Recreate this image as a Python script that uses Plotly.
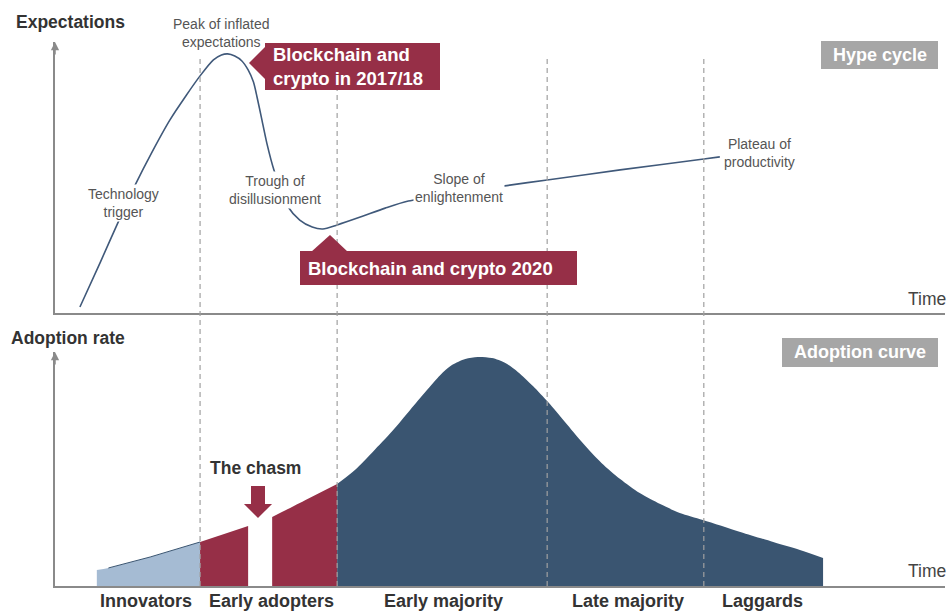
import plotly.graph_objects as go

# ---------------- data ----------------
# Hype cycle: time (0-100) vs expectations (0-100)
hype_t = [2.8, 5.1, 7.2, 9.0, 10.9, 12.9, 14.7, 16.3, 17.8, 18.7, 19.4, 20.2, 21.0, 21.7,
          22.3, 22.7, 23.2, 23.8, 24.6, 26.2, 27.5, 28.9, 30.1, 31.7, 34.3, 37.1, 39.7,
          51.1, 55.3, 63.5, 72.9, 74.7]
hype_v = [2.2, 18.8, 34.3, 47.2, 59.4, 71.2, 80.1, 87.5, 93.4, 95.2, 95.6, 94.8, 93.0, 89.7,
          85.2, 79.7, 72.0, 62.7, 52.8, 39.1, 34.3, 31.7, 31.0, 32.5, 35.4, 38.7, 41.3,
          47.2, 49.1, 52.8, 56.8, 57.6]

# Adoption curve: time (0-100) vs adoption rate (0-100)
adopt_t = [4.7, 6.0, 10.7, 16.3, 21.7, 24.4, 27.5, 31.7, 33.7, 35.7, 37.9, 39.9, 41.7, 43.3,
           44.6, 46.1, 47.5, 49.1, 50.6, 52.0, 53.7, 55.4, 57.3, 59.3, 61.4, 63.5, 65.7,
           68.0, 70.2, 72.8, 77.0, 80.7, 83.7, 86.3]
adopt_v = [6.8, 7.7, 12.4, 18.8, 25.6, 29.5, 35.5, 43.6, 49.6, 57.3, 66.2, 75.2, 83.3, 90.2,
           94.4, 97.0, 97.9, 97.4, 95.3, 91.5, 85.5, 78.6, 70.1, 61.1, 52.6, 45.7, 39.7,
           35.0, 31.2, 28.2, 23.1, 18.8, 15.4, 12.0]

# adopter groups: (name, t_start, t_end, colour)
segments = [
    ("Innovators", 4.7, 16.3, "#a5bbd3"),
    ("Early adopters", 16.3, 21.7, "#962f47"),
    ("Early adopters", 24.4, 31.7, "#962f47"),
    ("Majority", 31.7, 86.3, "#3a5571"),
]
phase_bounds = [16.3, 31.7, 55.3, 72.9]

group_labels = ["Innovators", "Early adopters", "Early majority", "Late majority", "Laggards"]
group_label_px = [146, 271, 443, 628, 762]

hype_labels = ["Peak of inflated<br>expectations", "Technology<br>trigger",
               "Trough of<br>disillusionment", "Slope of<br>enlightenment",
               "Plateau of<br>productivity"]
hype_label_px = [(221, 33), (123, 203), (275, 190), (459, 188), (759, 153)]

W, H = 950, 612
FONT = "Liberation Sans, Arial, Helvetica, sans-serif"
AXC = "#8a8a8a"
RED = "#962f47"
GRAYBOX = "#a6a6a6"


def px(x):
    return x / W


def py(y):
    return 1 - y / H


fig = go.Figure()

# adoption areas
for name, t0, t1, col in segments:
    xs = [t for t in adopt_t if t0 - 1e-9 <= t <= t1 + 1e-9]
    ys = [v for t, v in zip(adopt_t, adopt_v) if t0 - 1e-9 <= t <= t1 + 1e-9]
    fig.add_trace(go.Scatter(x=xs, y=ys, xaxis="x2", yaxis="y2", mode="lines",
                             fill="tozeroy", fillcolor=col,
                             line=dict(width=0, color=col, shape="spline", smoothing=0.8),
                             hoverinfo="skip", showlegend=False))
# thin outline on innovators
xs = [t for t in adopt_t if 6.0 <= t <= 16.3]
ys = [v for t, v in zip(adopt_t, adopt_v) if 6.0 <= t <= 16.3]
fig.add_trace(go.Scatter(x=xs, y=ys, xaxis="x2", yaxis="y2", mode="lines",
                         line=dict(width=1, color="#3a5571"), hoverinfo="skip",
                         showlegend=False))

# hype cycle curve
fig.add_trace(go.Scatter(x=hype_t, y=hype_v, xaxis="x", yaxis="y", mode="lines",
                         line=dict(color="#40597a", width=1.6, shape="spline", smoothing=0.7),
                         hoverinfo="skip", showlegend=False))

axis_common = dict(range=[0, 100], showgrid=False, zeroline=False, showticklabels=False,
                   ticks="", showline=True, linecolor=AXC, linewidth=1.5, fixedrange=True)

fig.update_layout(
    width=W, height=H, margin=dict(l=0, r=0, t=0, b=0),
    paper_bgcolor="white", plot_bgcolor="rgba(0,0,0,0)",
    font=dict(family=FONT),
    xaxis=dict(domain=[px(55), px(945)], anchor="y", **axis_common),
    yaxis=dict(domain=[py(313), py(42)], anchor="x", **axis_common),
    xaxis2=dict(domain=[px(55), px(945)], anchor="y2", **axis_common),
    yaxis2=dict(domain=[py(586), py(352)], anchor="x2", **axis_common),
)

shapes = []
for t in phase_bounds:
    shapes.append(dict(type="line", xref="x", yref="paper", x0=t, x1=t,
                       y0=py(586), y1=py(55), layer="above",
                       line=dict(color="#a0a0a0", width=1.2, dash="5px,4px")))


def rect(x0, y0, x1, y1, col):
    return dict(type="rect", xref="paper", yref="paper", x0=px(x0), x1=px(x1),
                y0=py(y1), y1=py(y0), fillcolor=col, line=dict(width=0), layer="above")


def poly(pts, col):
    p = "M " + " L ".join(f"{px(a):.5f},{py(b):.5f}" for a, b in pts) + " Z"
    return dict(type="path", xref="paper", yref="paper", path=p, fillcolor=col,
                line=dict(width=0), layer="above")


shapes += [
    rect(265, 43, 440, 90, RED),
    poly([(266, 46), (249, 63), (266, 80)], RED),
    rect(300, 251, 577, 285, RED),
    poly([(311, 252), (330, 235), (348, 252)], RED),
    rect(821, 41, 938, 69, GRAYBOX),
    rect(782, 338, 938, 367, GRAYBOX),
    poly([(251, 486), (265, 486), (265, 504), (272, 504), (258, 518), (244, 504), (251, 504)], RED),
]
fig.update_layout(shapes=shapes)

ann = []


def text(s, x, y, size, color, xanchor="center", bold=False, bg=None):
    d = dict(text=f"<b>{s}</b>" if bold else s, xref="paper", yref="paper",
             x=px(x), y=py(y), xanchor=xanchor, yanchor="middle", showarrow=False,
             font=dict(family=FONT, size=size, color=color), align="center")
    if bg:
        d["bgcolor"] = bg
        d["borderpad"] = 1
    ann.append(d)


text("Expectations", 14, 22, 17.5, "#333333", "left", True)
text("Adoption rate", 9, 338, 17.5, "#333333", "left", True)
for i, (s, (x, y)) in enumerate(zip(hype_labels, hype_label_px)):
    text(s, x, y, 14, "#555555", bg="white" if i in (1, 2, 3) else None)
ann.append(dict(text="<b>Blockchain and<br>crypto in 2017/18</b>", xref="paper", yref="paper",
                x=px(271), y=py(66.5), xanchor="left", yanchor="middle", showarrow=False,
                align="left", font=dict(family=FONT, size=18.5, color="white")))
text("Blockchain and crypto 2020", 306, 268, 18.5, "white", "left", True)
text("Hype cycle", 879.5, 55, 18, "white", bold=True)
text("Adoption curve", 860, 352.5, 18, "white", bold=True)
text("Time", 906, 299, 17.5, "#444444", "left")
text("Time", 906, 571, 17.5, "#444444", "left")
text("The chasm", 255, 468, 17.5, "#333333", bold=True)
for s, x in zip(group_labels, group_label_px):
    text(s, x, 601, 18, "#333333", bold=True)

# axis arrowheads
for tip in (42, 352):
    ann.append(dict(text="", xref="paper", yref="paper", x=px(55), y=py(tip),
                    ax=0, ay=14, showarrow=True, arrowhead=2, arrowsize=1.1,
                    arrowwidth=1.5, arrowcolor=AXC, standoff=0))

fig.update_layout(annotations=ann)
fig.write_html("out.html")
